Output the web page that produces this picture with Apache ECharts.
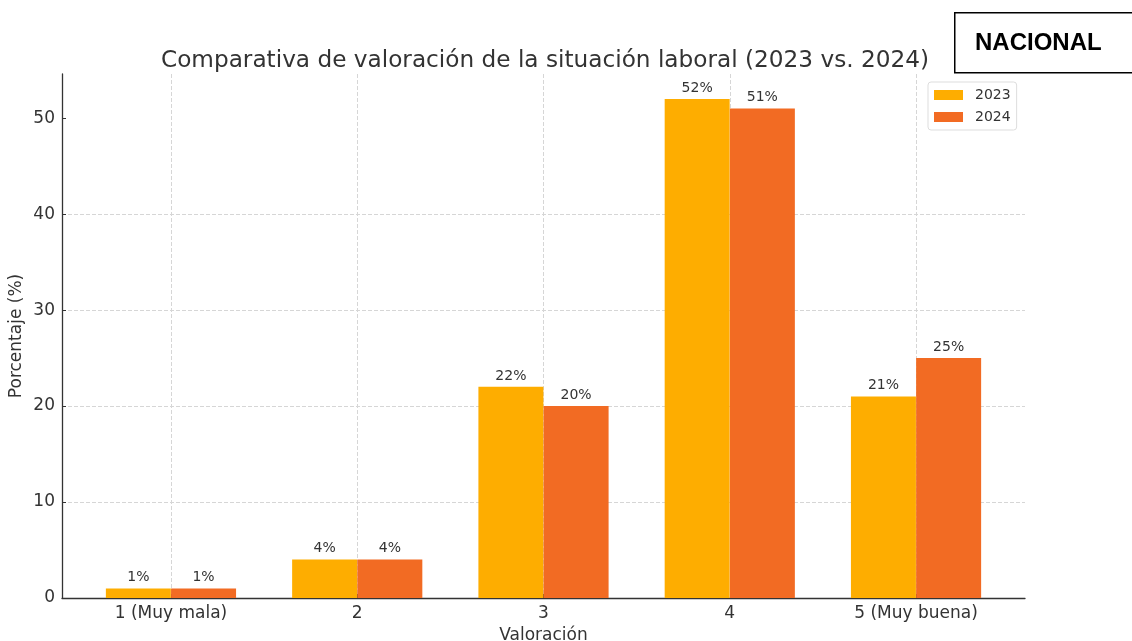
<!DOCTYPE html>
<html>
<head>
<meta charset="utf-8">
<script src="https://cdn.jsdelivr.net/npm/echarts@6/dist/echarts.min.js"></script>
<style>
  html, body { margin: 0; padding: 0; background: #fff; }
  #chart { width: 1132px; height: 641px; }
</style>
</head>
<body>
<div id="chart"></div>
<script>
// datos
const categorias = ['1 (Muy mala)', '2', '3', '4', '5 (Muy buena)'];
const valores2023 = [1, 4, 22, 52, 21];
const valores2024 = [1, 4, 20, 51, 25];
const ticksY = [0, 10, 20, 30, 40, 50];
const posiciones = [0, 1, 2, 3, 4];

const fuente = 'DejaVu Sans';
const ancho = 0.35; // ancho de barra en unidades del eje
const margenX = 0.05 * (posiciones.length - 1 + 2 * ancho);

const chart = echarts.init(document.getElementById('chart'));

function barra(nombre, valores, color, desplazamiento) {
  return {
    name: nombre,
    type: 'bar',
    barWidth: 65,
    barGap: '-100%',
    data: valores.map((v, i) => [posiciones[i] + desplazamiento, v]),
    itemStyle: { color: color },
    label: {
      show: true,
      position: 'top',
      distance: 4,
      fontFamily: fuente,
      fontSize: 14,
      color: '#333',
      formatter: p => p.value[1] + '%'
    },
    z: 3
  };
}

chart.setOption({
  animation: false,
  textStyle: { fontFamily: fuente },
  title: {
    text: 'Comparativa de valoración de la situación laboral (2023 vs. 2024)',
    left: 540,
    textAlign: 'center',
    top: 44,
    textStyle: { fontFamily: fuente, fontSize: 23.2, fontWeight: 'normal', color: '#333' }
  },
  legend: {
    orient: 'vertical',
    left: 928,
    top: 82,
    icon: 'rect',
    itemWidth: 29,
    itemHeight: 10,
    itemGap: 8,
    padding: [6, 6, 6, 6],
    borderColor: '#ddd',
    borderWidth: 1,
    borderRadius: 3,
    backgroundColor: '#fff',
    textStyle: { fontFamily: fuente, fontSize: 14, color: '#333', lineHeight: 14, padding: [0, 0, 0, 7] },
    data: ['2023', '2024']
  },
  grid: { left: 62, right: 107, top: 74, bottom: 43, outerBoundsMode: 'none', containLabel: false },
  xAxis: {
    type: 'value',
    min: posiciones[0] - ancho - margenX,
    max: posiciones[posiciones.length - 1] + ancho + margenX,
    name: 'Valoración',
    nameLocation: 'middle',
    nameGap: 29,
    nameMoveOverlap: false,
    nameTextStyle: { fontFamily: fuente, fontSize: 17, color: '#333' },
    axisLine: { show: true, onZero: false, lineStyle: { color: '#333', width: 1.3 } },
    axisTick: { show: true, inside: true, length: 4, customValues: posiciones, lineStyle: { color: '#333' } },
    axisLabel: {
      customValues: posiciones,
      margin: 7,
      fontFamily: fuente,
      fontSize: 17,
      color: '#333',
      formatter: v => categorias[Math.round(v)]
    },
    splitLine: { show: true, lineStyle: { color: '#d6d6d6', type: 'dashed', width: 1 } }
  },
  yAxis: {
    type: 'value',
    min: 0,
    max: 54.6,
    name: 'Porcentaje (%)',
    nameLocation: 'middle',
    nameGap: 37,
    nameMoveOverlap: false,
    nameTextStyle: { fontFamily: fuente, fontSize: 17, color: '#333' },
    axisLine: { show: true, onZero: false, lineStyle: { color: '#333', width: 1.3 } },
    axisTick: { show: true, inside: true, length: 4, customValues: ticksY, lineStyle: { color: '#333' } },
    axisLabel: { customValues: ticksY, margin: 7, fontFamily: fuente, fontSize: 17, color: '#333' },
    splitLine: { show: true, showMaxLine: false, lineStyle: { color: '#d6d6d6', type: 'dashed', width: 1 } }
  },
  series: [
    barra('2023', valores2023, '#FEAD00', -ancho / 2),
    barra('2024', valores2024, '#F26B23', ancho / 2)
  ],
  graphic: [
    {
      type: 'rect',
      left: 954,
      top: 12,
      shape: { width: 178, height: 60 },
      style: { fill: '#fff', stroke: '#000', lineWidth: 1.5 }
    },
    {
      type: 'text',
      left: 975,
      top: 31,
      style: { text: 'NACIONAL', font: 'bold 24px "Liberation Sans"', fill: '#000' }
    }
  ]
});
</script>
</body>
</html>
